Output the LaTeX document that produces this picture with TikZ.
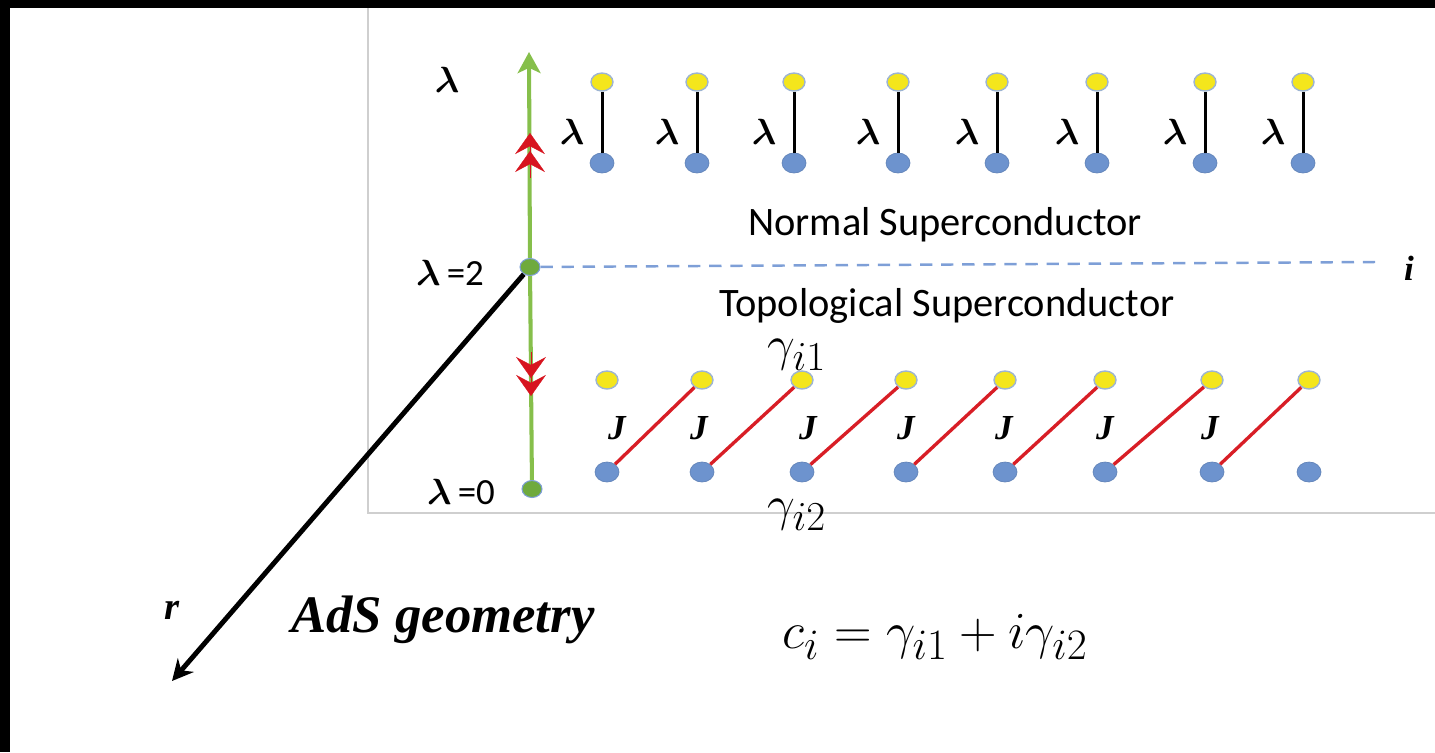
\documentclass[tikz,border=0pt]{standalone}
\usepackage{amsmath}
\usepackage{fontspec}
\setmainfont{Carlito}
\newfontfamily\serifbi{Liberation Serif}
\usetikzlibrary{arrows.meta, shapes.geometric}
\definecolor{dotyellow}{HTML}{F4E61C}
\definecolor{dotblue}{HTML}{6D93CE}
\definecolor{dotrim}{HTML}{9DB4D2}
\definecolor{axisgreen}{HTML}{86BF4B}
\definecolor{dotgreen}{HTML}{6FAA3D}
\definecolor{chevred}{HTML}{D7141F}
\definecolor{linkred}{HTML}{D81E26}
\definecolor{dashblue}{HTML}{7E9FD7}
\definecolor{framegray}{HTML}{CFCFCF}
\newcommand{\lam}{$\boldsymbol{\lambda}$}
\newcommand{\fsz}[1]{\fontsize{#1}{#1}\selectfont}

\begin{document}
\begin{tikzpicture}[x=0.02cm, y=-0.02cm,
    ydot/.style={ellipse, draw=dotrim, line width=0.8pt, fill=dotyellow,
      minimum width=0.44cm, minimum height=0.36cm, inner sep=0pt},
    bdot/.style={ellipse, draw=dotblue!90!black, line width=0.4pt, fill=dotblue,
      minimum width=0.48cm, minimum height=0.40cm, inner sep=0pt},
    gdot/.style={ellipse, draw=dashblue, line width=0.6pt, fill=dotgreen,
      minimum width=0.40cm, minimum height=0.34cm, inner sep=0pt},
    pairline/.style={line width=1.7pt, black},
    jline/.style={line width=1.9pt, linkred},
    greenaxis/.style={line width=2.3pt, axisgreen},
    chevrons/.style={chevred, line width=0.2pt,
      -{Stealth[length=12pt, width=17pt, inset=4.5pt, sep=-1.8pt] Stealth[length=12pt, width=17pt, inset=4.5pt]}},
    lamlab/.style={font=\fsz{20.74}, inner sep=0pt},
    jlab/.style={font=\fsz{20}\serifbi\bfseries\itshape, inner sep=0pt},
    phase/.style={font=\fsz{23}, inner sep=0pt}]
    \useasboundingbox (0,0) rectangle (1435,752);
    \fill[black] (0,0) rectangle (1435,8);
    \fill[black] (0,0) rectangle (10,752);
    \draw[framegray, line width=0.9pt] (368,8) -- (368,513) -- (1435,513);

    \node[gdot] (l2) at (530,267) {};
    \node[gdot] (l0) at (532,489) {};
    \coordinate (axtop) at (529,52);
    \coordinate (rtip) at (172,681);
    \coordinate (iend) at (1375,262);
    \coordinate (upa) at (530,178);
    \coordinate (upb) at (530,133);
    \coordinate (dna) at (531,352);
    \coordinate (dnb) at (531,396);
    \draw[greenaxis] (l0) -- (l2);
    \draw[greenaxis, -{Stealth[length=12pt, width=13pt, inset=3pt]}] (l2) -- (axtop);
    \draw[chevrons] (upa) -- (upb);
    \draw[chevrons] (dna) -- (dnb);
    \draw[dashblue, line width=1.4pt, dash pattern=on 7pt off 5pt] (l2) -- (iend);
    \draw[line width=2.8pt, -{Stealth[length=12pt, width=12pt, inset=4pt]}] (l2) -- (rtip);

    \foreach \x [count=\k] in {602,697,794,898,997,1097,1205,1303}{
      \node[ydot] (nt\k) at (\x,82) {};
      \node[bdot] (nb\k) at (\x,163) {};
      \draw[pairline] (nt\k) -- (nb\k);
      \node[lamlab] (nl\k) at (\x-30,132) {\lam};
    }
    \foreach \x [count=\k] in {607,702,802,906,1005,1105,1212,1309}{
      \node[ydot] (tt\k) at (\x,380) {};
      \node[bdot] (tb\k) at (\x,472) {};
    }
    \foreach \x [count=\k] in {617,699,808,906,1004,1105,1210}{
      \pgfmathtruncatemacro{\n}{\k+1}
      \draw[jline] (tb\k) -- (tt\n);
      \node[jlab] (jl\k) at (\x,428) {J};
    }

    \node[lamlab] (lamtop) at (447,80) {\lam};
    \node[lamlab, font=\fsz{21}] (lamtwo) at (450,273) {\lam\,=2};
    \node[lamlab, font=\fsz{21}] (lamzero) at (461,492) {\lam\,=0};
    \node[jlab] (ilab) at (1409,268) {i};
    \node[phase] (normal) at (945,225) {Normal Superconductor};
    \node[phase] (topo) at (947,306) {Topological Superconductor};
    \node[font=\fsz{24.88}, scale=1.13, inner sep=0pt] (gam1) at (797,355) {$\gamma_{i1}$};
    \node[font=\fsz{24.88}, scale=1.13, inner sep=0pt] (gam2) at (797,515) {$\gamma_{i2}$};
    \node[font=\fsz{22}\serifbi\bfseries\itshape, inner sep=0pt] (rlab) at (172,610) {r};
    \node[font=\fsz{30}\serifbi\bfseries\itshape, inner sep=0pt] (ads) at (443,620) {AdS geometry};
    \node[font=\fsz{24.88}, scale=1.19, inner sep=0pt] (ci) at (935,637) {$c_i=\gamma_{i1}+i\gamma_{i2}$};
\end{tikzpicture}
\end{document}
